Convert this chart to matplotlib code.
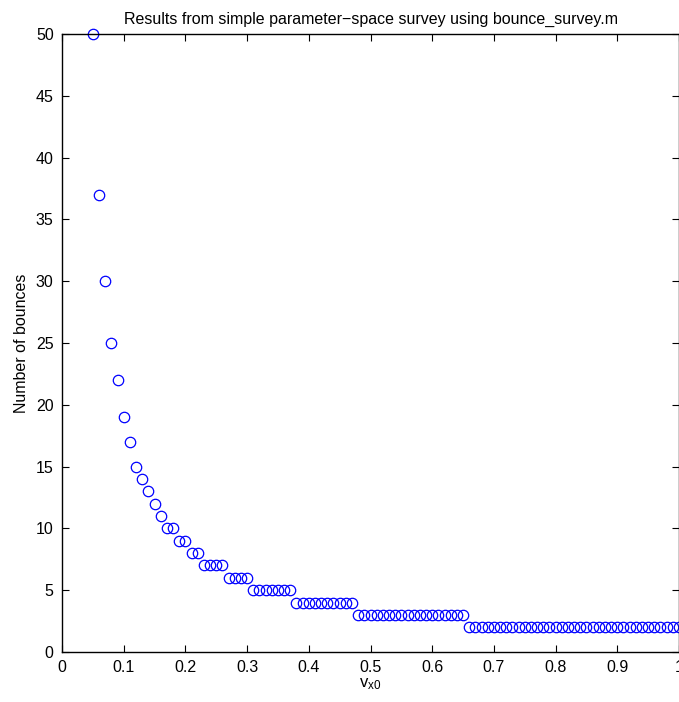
import numpy as np
import matplotlib
matplotlib.use("Agg")
import matplotlib.pyplot as plt

plt.rcParams['font.family'] = ['Liberation Sans', 'DejaVu Sans']
plt.rcParams['mathtext.fontset'] = 'custom'
plt.rcParams['mathtext.rm'] = 'Liberation Sans'
plt.rcParams['mathtext.it'] = 'Liberation Sans'

# Data
vx0 = [round(0.05 + 0.01 * i, 2) for i in range(96)]
bounces = ([50, 37, 30, 25, 22, 19, 17, 15, 14, 13, 12, 11, 10, 10, 9, 9, 8, 8]
           + [7] * 4 + [6] * 4 + [5] * 7 + [4] * 10 + [3] * 18 + [2] * 35)

xticks = [0, 0.1, 0.2, 0.3, 0.4, 0.5, 0.6, 0.7, 0.8, 0.9, 1]
xticklabels = ['0', '0.1', '0.2', '0.3', '0.4', '0.5', '0.6', '0.7', '0.8', '0.9', '1']
yticks = list(range(0, 51, 5))

fig = plt.figure(figsize=(6.79, 7.02), dpi=100)
ax = fig.add_axes([62 / 679, 50 / 702, 617 / 679, 618 / 702])

ax.plot(vx0, bounces, linestyle='none', marker='o', markersize=7.5,
        markerfacecolor='none', markeredgecolor='#0000ff', markeredgewidth=0.9,
        clip_on=False)

ax.set_xlim(0, 1)
ax.set_ylim(0, 50)
ax.set_xticks(xticks)
ax.set_xticklabels(xticklabels)
ax.set_yticks(yticks)
ax.tick_params(direction='in', length=5, width=0.8, top=True, right=True,
               labelsize=11.5, pad=6)
for s in ax.spines.values():
    s.set_linewidth(1.0)

ax.set_title('Results from simple parameter\u2212space survey using bounce_survey.m',
             fontsize=11.5, pad=7)
ax.set_xlabel(r'$\mathregular{v_{x0}}$', fontsize=12, labelpad=1)
ax.set_ylabel('Number of bounces', fontsize=11.5, labelpad=5)

fig.savefig('out.png', dpi=100)
